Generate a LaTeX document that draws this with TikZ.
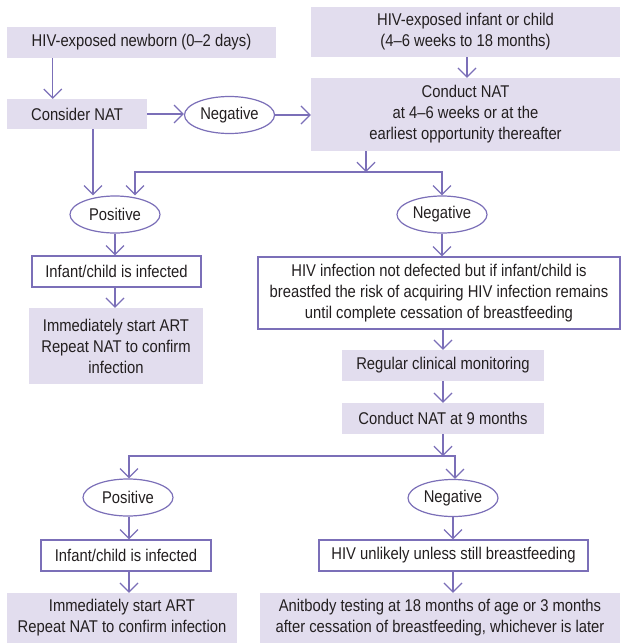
\documentclass[tikz,border=0pt]{standalone}
\usepackage{fontspec}
\setmainfont{Liberation Sans}[FakeStretch=0.87]
\usetikzlibrary{arrows.meta,shapes.geometric}
\definecolor{lc}{HTML}{7B6FB8}
\definecolor{fc}{HTML}{E2DDEE}
\definecolor{tc}{HTML}{231F20}
\begin{document}
\begin{tikzpicture}[x=1pt,y=-1pt,
 every node/.style={font=\fontsize{17}{21}\selectfont, text=tc, align=center, inner sep=0pt},
 fbox/.style={fill=fc, draw=none},
 obox/.style={draw=lc, line width=1.2pt, fill=white},
 oval/.style={ellipse, draw=lc, line width=1.2pt, fill=white, minimum width=90pt, minimum height=37pt},
 ln/.style={draw=lc, line width=1.2pt},
 conn/.style={ln, -{Straight Barb[length=9pt,width=18pt]}},
 dbl/.style={ln, {Straight Barb[length=9pt,width=18pt]}-{Straight Barb[length=9pt,width=18pt]}}]
\useasboundingbox (0,0) rectangle (624,643);
% nodes
\node[fbox, minimum width=269pt, minimum height=31pt] (b1) at (141.5,42.5) {HIV-exposed newborn (0--2 days)};
\node[fbox, minimum width=309pt, minimum height=50pt] (b2) at (465.5,32) {HIV-exposed infant or child\\(4--6 weeks to 18 months)};
\node[fbox, minimum width=140pt, minimum height=30pt] (cn) at (77,114) {Consider NAT};
\node[oval] (neg1) at (229.5,115) {Negative};
\node[fbox, minimum width=309pt, minimum height=73pt] (cnat) at (465.5,114.5) {Conduct NAT\\at 4--6 weeks or at the\\earliest opportunity thereafter};
\node[oval] (pos1) at (115,214.5) {Positive};
\node[oval] (neg2) at (442,214.5) {Negative};
\node[obox, minimum width=169pt, minimum height=31pt] (inf1) at (116.5,271.5) {Infant/child is infected};
\node[fbox, minimum width=174pt, minimum height=76pt] (imm1) at (116,346) {Immediately start ART\\Repeat NAT to confirm\\infection};
\node[obox, minimum width=362pt, minimum height=72pt] (hivnd) at (439,293) {HIV infection not defected but if infant/child is\\breastfed the risk of acquiring HIV infection remains\\until complete cessation of breastfeeding};
\node[fbox, minimum width=202pt, minimum height=31pt] (reg) at (443,365.5) {Regular clinical monitoring};
\node[fbox, minimum width=202pt, minimum height=31pt] (nat9) at (443,418.5) {Conduct NAT at 9 months};
\node[oval] (pos2) at (128,497.5) {Positive};
\node[oval] (neg3) at (453,498) {Negative};
\node[obox, minimum width=170pt, minimum height=31pt] (inf2) at (126,555.5) {Infant/child is infected};
\node[fbox, minimum width=230pt, minimum height=50pt] (imm2) at (122,618) {Immediately start ART\\Repeat NAT to confirm infection};
\node[obox, minimum width=269pt, minimum height=31pt] (unl) at (453.5,555.5) {HIV unlikely unless still breastfeeding};
\node[fbox, minimum width=360pt, minimum height=50pt] (anti) at (440,618) {Anitbody testing at 18 months of age or 3 months\\after cessation of breastfeeding, whichever is later};
% junction coordinates
\coordinate (hl) at (135,172);
\coordinate (hr) at (442,172);
\coordinate (hl2) at (129,456);
\coordinate (hr2) at (455,456);
% connectors
\draw[conn] ([xshift=46pt]b1.south west) -- ([xshift=46pt]cn.north west);
\draw[conn] (cn.east) -- (cn.east -| neg1.west);
\draw[conn] (neg1.east) -- (neg1.east -| cnat.west);
\draw[conn] ([xshift=1.5pt]b2.south) -- ([xshift=1.5pt]cnat.north);
\draw[conn] ([xshift=16pt]cn.south) -- ([xshift=16pt]cn.south |- pos1.north);
\draw[conn] ([xshift=-99.5pt]cnat.south) -- ([xshift=-99.5pt]cnat.south |- hl);
\draw[dbl] (hl |- pos1.north) -- (hl) -- (hr) -- (neg2.north);
\draw[conn] (pos1.south) -- (pos1.south |- inf1.north);
\draw[conn] (inf1.south -| pos1.south) -- (imm1.north -| pos1.south);
\draw[conn] (neg2.south) -- (neg2.south |- hivnd.north);
\draw[conn] (reg.north |- hivnd.south) -- (reg.north);
\draw[conn] (reg.south) -- (nat9.north);
\draw[conn] (nat9.south) -- (nat9.south |- hl2);
\draw[dbl] (hl2 |- pos2.north) -- (hl2) -- (hr2) -- (hr2 |- neg3.north);
\draw[conn] ([xshift=1pt]pos2.south) -- ([xshift=1pt]pos2.south |- inf2.north);
\draw[conn] ([xshift=1pt]inf2.south -| pos2.south) -- ([xshift=1pt]imm2.north -| pos2.south);
\draw[conn] (neg3.south) -- (neg3.south |- unl.north);
\draw[conn] (unl.south -| neg3.south) -- (anti.north -| neg3.south);
\end{tikzpicture}
\end{document}
